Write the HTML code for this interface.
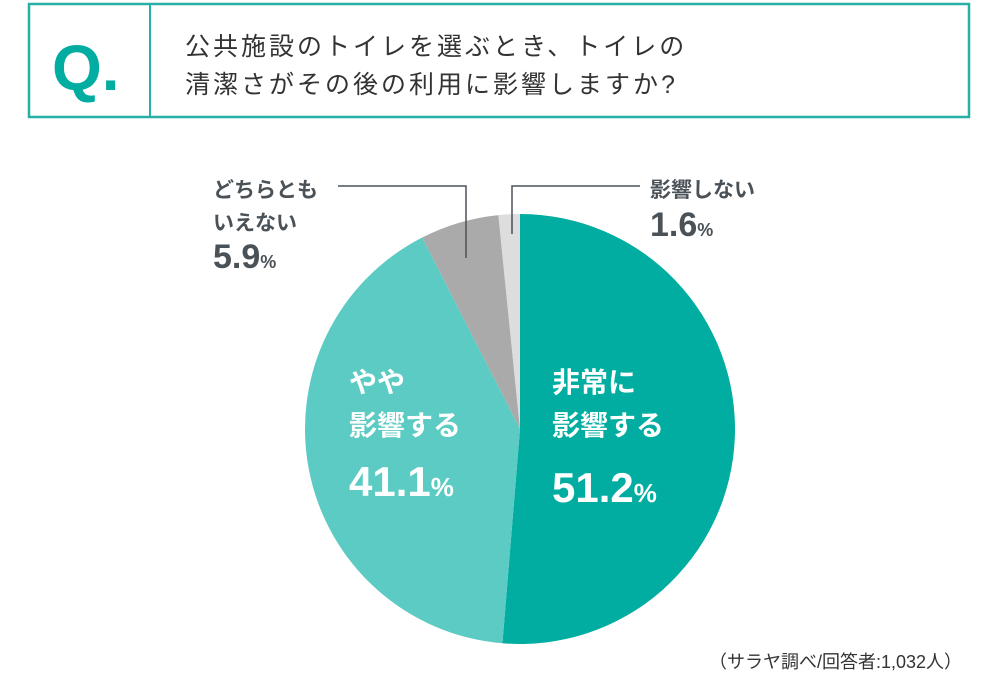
<!DOCTYPE html>
<html><head><meta charset="utf-8">
<style>
body{margin:0;width:1000px;height:680px;background:#fff;overflow:hidden;font-family:"Liberation Sans","Noto Sans CJK JP",sans-serif;}
svg text{font-family:"Liberation Sans","Noto Sans CJK JP",sans-serif;}
</style></head><body>
<svg width="1000" height="680">
<rect x="29" y="4" width="940" height="113" fill="none" stroke="#27b0a5" stroke-width="2.5"/>
<line x1="150" y1="4" x2="150" y2="117" stroke="#27b0a5" stroke-width="2"/>
<text x="52" y="90" font-size="64" font-weight="bold" fill="#00ada0">Q.</text>
<text x="185" y="55" font-size="25" letter-spacing="3" fill="#333">公共施設のトイレを選ぶとき、トイレの</text>
<text x="185" y="93" font-size="25" letter-spacing="3" fill="#333">清潔さがその後の利用に影響しますか?</text>
<g id="slices"></g>
<polyline points="338,186 466,186 466,258" fill="none" stroke="#4a5258" stroke-width="1.5"/>
<polyline points="640,186 512,186 512,234" fill="none" stroke="#4a5258" stroke-width="1.5"/>
<g fill="#4a5258" font-weight="bold">
<text x="213" y="197" font-size="21">どちらとも</text>
<text x="213" y="230" font-size="21">いえない</text>
<text x="213" y="268" font-size="34">5.9<tspan font-size="18">%</tspan></text>
</g>
<g fill="#4a5258" font-weight="bold">
<text x="650" y="197" font-size="21">影響しない</text>
<text x="650" y="236" font-size="34">1.6<tspan font-size="18">%</tspan></text>
</g>
<g fill="#fff" font-weight="bold">
<text x="552" y="392" font-size="28">非常に</text>
<text x="552" y="435" font-size="28">影響する</text>
<text x="552" y="502" font-size="42">51.2<tspan font-size="26">%</tspan></text>
</g>
<g fill="#fff" font-weight="bold">
<text x="349" y="392" font-size="28">やや</text>
<text x="349" y="435" font-size="28">影響する</text>
<text x="349" y="496" font-size="42">41.1<tspan font-size="26">%</tspan></text>
</g>
<text x="962" y="668" font-size="18" fill="#333" text-anchor="end">（サラヤ調べ/回答者:1,032人）</text>
</svg>
<script>
const categories=["非常に影響する","やや影響する","どちらともいえない","影響しない"];
const values=[51.2,41.1,5.9,1.6];
const colors=["#00ada0","#5ccbc3","#aaaaaa","#dddddd"];
const names=["slice-strong","slice-somewhat","slice-neutral","slice-no-effect"];
const cx=520,cy=429,r=215;
const g=document.getElementById('slices');
const total=values.reduce((a,b)=>a+b,0);
let a0=-Math.PI/2;
values.forEach((v,i)=>{
 const a1=a0+v/total*2*Math.PI;
 const x0=cx+r*Math.cos(a0),y0=cy+r*Math.sin(a0),x1=cx+r*Math.cos(a1),y1=cy+r*Math.sin(a1);
 const p=document.createElementNS('http://www.w3.org/2000/svg','path');
 p.setAttribute('d',`M${cx},${cy}L${x0},${y0}A${r},${r} 0 ${(a1-a0)>Math.PI?1:0} 1 ${x1},${y1}Z`);
 p.setAttribute('fill',colors[i]);
 
 
 g.appendChild(p);
 a0=a1;
});
</script>
</body></html>
